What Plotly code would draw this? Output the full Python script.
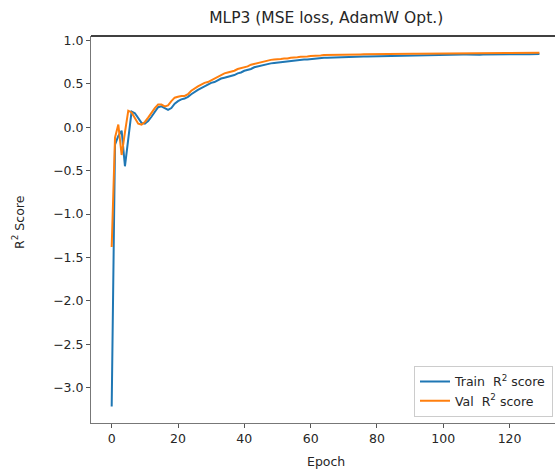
import plotly.graph_objects as go

epochs = list(range(130))

val_r2 = [
    -1.38, -0.12, 0.03, -0.32, -0.06, 0.19, 0.17, 0.10, 0.04, 0.03,
    0.06, 0.11, 0.17, 0.22, 0.26, 0.26, 0.24, 0.25, 0.30, 0.34,
    0.35, 0.36, 0.36, 0.38, 0.42, 0.45, 0.47, 0.49, 0.51, 0.52,
    0.54, 0.56, 0.58, 0.60, 0.62, 0.63, 0.64, 0.65, 0.67, 0.68,
    0.69, 0.70, 0.72, 0.73, 0.74, 0.75, 0.76, 0.77, 0.775, 0.78,
    0.78, 0.785, 0.79, 0.79, 0.80, 0.80, 0.805, 0.81, 0.81, 0.815,
    0.82, 0.82, 0.82, 0.825, 0.83,
    0.830, 0.832, 0.831, 0.833, 0.834, 0.835, 0.836, 0.836, 0.837, 0.838,
    0.838, 0.839, 0.840, 0.840, 0.841, 0.841, 0.842, 0.842, 0.843, 0.843,
    0.843, 0.844, 0.844, 0.845, 0.845, 0.845, 0.846, 0.846, 0.846, 0.847,
    0.847, 0.847, 0.848, 0.848, 0.848, 0.849, 0.849, 0.848, 0.849, 0.850,
    0.850, 0.849, 0.848, 0.846, 0.845, 0.848, 0.850, 0.851, 0.851, 0.852,
    0.852, 0.852, 0.853, 0.853, 0.853, 0.854, 0.854, 0.854, 0.855, 0.855,
    0.855, 0.855, 0.856, 0.856, 0.856,
]

train_r2 = [
    -3.215, -0.20, -0.10, -0.04, -0.45, -0.10, 0.18, 0.16, 0.10, 0.05,
    0.04, 0.07, 0.12, 0.18, 0.23, 0.24, 0.22, 0.20, 0.22, 0.27,
    0.30, 0.32, 0.33, 0.35, 0.38, 0.41, 0.43, 0.45, 0.47, 0.49,
    0.51, 0.52, 0.54, 0.56, 0.57, 0.58, 0.59, 0.60, 0.62, 0.63,
    0.65, 0.66, 0.67, 0.69, 0.70, 0.71, 0.72, 0.73, 0.735, 0.74,
    0.745, 0.75, 0.75, 0.755, 0.76, 0.765, 0.77, 0.775, 0.78, 0.78,
    0.785, 0.79, 0.79, 0.795, 0.80,
    0.800, 0.802, 0.803, 0.804, 0.806, 0.807, 0.808, 0.809, 0.810, 0.811,
    0.812, 0.813, 0.814, 0.815, 0.816, 0.817, 0.818, 0.819, 0.820, 0.821,
    0.822, 0.823, 0.824, 0.825, 0.826, 0.827, 0.828, 0.829, 0.830, 0.831,
    0.831, 0.832, 0.833, 0.833, 0.834, 0.834, 0.835, 0.835, 0.836, 0.836,
    0.837, 0.837, 0.836, 0.834, 0.832, 0.833, 0.835, 0.836, 0.837, 0.838,
    0.838, 0.838, 0.839, 0.839, 0.839, 0.840, 0.840, 0.840, 0.840, 0.841,
    0.841, 0.841, 0.841, 0.842, 0.842,
]

x_ticks = [0, 20, 40, 60, 80, 100, 120]
y_ticks = [-3.0, -2.5, -2.0, -1.5, -1.0, -0.5, 0.0, 0.5, 1.0]

FONT = "DejaVu Sans"
TXT = "#262626"

fig = go.Figure()
fig.add_trace(go.Scatter(x=epochs, y=train_r2, mode="lines",
                         name="Train\u00a0 R<sup>2</sup> score",
                         line=dict(color="#1f77b4", width=2)))
fig.add_trace(go.Scatter(x=epochs, y=val_r2, mode="lines",
                         name="Val\u00a0 R<sup>2</sup> score",
                         line=dict(color="#ff7f0e", width=2)))

fig.update_layout(
    width=555, height=470,
    margin=dict(l=91, r=0, t=36, b=47),
    paper_bgcolor="white", plot_bgcolor="white",
    font=dict(family=FONT, size=12.5, color=TXT),
    title=dict(text="MLP3 (MSE loss, AdamW Opt.)", x=0.5877, xref="container",
               xanchor="center", y=1 - 18 / 470, yref="container", yanchor="middle",
               font=dict(family=FONT, size=15.5, color=TXT)),
    xaxis=dict(range=[-6.24, 133.7], tickvals=x_ticks, ticks="outside", ticklen=4,
               tickcolor="#555", showline=True, linecolor="#777", linewidth=1,
               showgrid=False, zeroline=False,
               tickfont=dict(family=FONT, size=12.5, color=TXT)),
    yaxis=dict(range=[-3.406, 1.05], tickvals=y_ticks, tickformat=".1f",
               ticks="outside", ticklen=4, tickcolor="#555", showline=True,
               linecolor="#777", linewidth=1, showgrid=False, zeroline=False,
               tickfont=dict(family=FONT, size=12.5, color=TXT)),
    legend=dict(x=0.9957, xanchor="right", y=0.016, yanchor="bottom",
                bgcolor="white", bordercolor="#cccccc", borderwidth=1,
                font=dict(family=FONT, size=12.5, color=TXT)),
    showlegend=True,
)

fig.add_shape(type="line", xref="paper", yref="paper", x0=0, x1=1, y0=1, y1=1,
              line=dict(color="black", width=1.5))

fig.add_annotation(text="Epoch", xref="paper", yref="paper", x=0.506, y=-0.1,
                   xanchor="center", yanchor="middle", showarrow=False,
                   font=dict(family=FONT, size=12.5, color=TXT))
fig.add_annotation(text="R<sup>2</sup> Score", xref="paper", yref="paper",
                   x=-0.157, y=0.52, xanchor="center", yanchor="middle",
                   textangle=-90, showarrow=False,
                   font=dict(family=FONT, size=12.5, color=TXT))

fig.write_html("out.html")
